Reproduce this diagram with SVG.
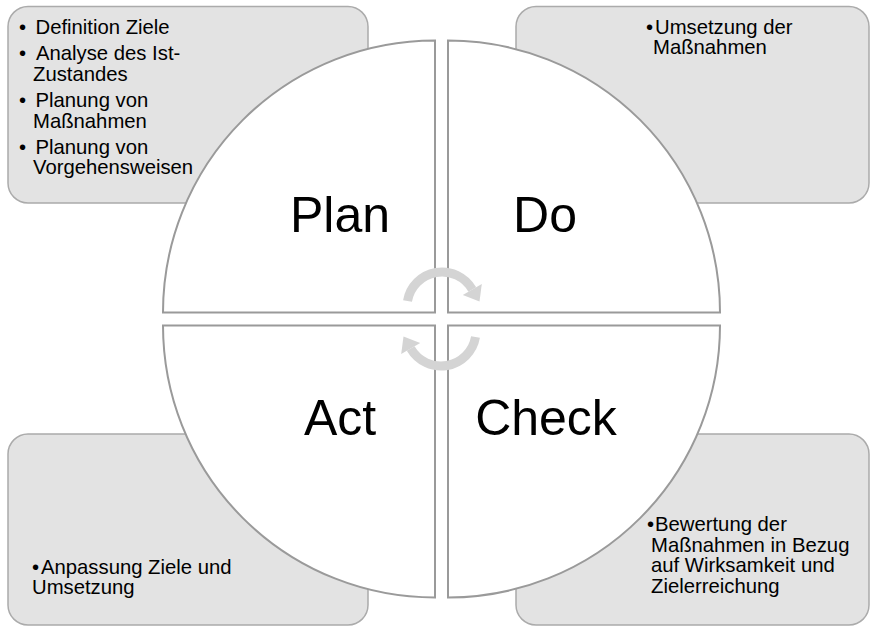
<svg xmlns="http://www.w3.org/2000/svg" xmlns:xlink="http://www.w3.org/1999/xlink" width="871" height="628" viewBox="0 0 871 628">
<style>
.box{fill:#e3e3e3;stroke:#ababab;stroke-width:1.5}
.quad{fill:#ffffff;stroke:#9a9a9a;stroke-width:2}
.lbl{font-family:"Liberation Sans",Arial,sans-serif;font-size:50px;fill:#000;text-anchor:middle}
.txt{font-family:"Liberation Sans",Arial,sans-serif;font-size:20.3px;fill:#000}
.arc{fill:none;stroke:#d4d4d4;stroke-width:9}
.head{fill:#d4d4d4}
</style>
<defs>
<g id="cycArrow">
<path class="arc" d="M 407.5 301 A 35 35 0 0 1 472.3 289.5"/>
<polygon class="head" points="481.8,284 462.8,295 479.5,301.5"/>
</g>
</defs>
<rect width="871" height="628" fill="#ffffff"/>
<g id="box-plan">
<rect class="box" x="8" y="6.5" width="360" height="196.5" rx="20"/>
<text class="txt"><tspan x="19" y="33.5">•</tspan><tspan x="35.5" y="33.5">Definition Ziele</tspan><tspan x="19" y="60">•</tspan><tspan x="36" y="60">Analyse des Ist-</tspan><tspan x="33" y="80.5">Zustandes</tspan><tspan x="19" y="107">•</tspan><tspan x="35.5" y="107">Planung von</tspan><tspan x="33" y="127.5">Maßnahmen</tspan><tspan x="19" y="153.5">•</tspan><tspan x="35.5" y="153.5">Planung von</tspan><tspan x="33" y="174">Vorgehensweisen</tspan></text>
</g>
<g id="box-do">
<rect class="box" x="516" y="6.5" width="353" height="196.5" rx="20"/>
<text class="txt"><tspan x="646" y="33.5">•</tspan><tspan x="655" y="33.5">Umsetzung der</tspan><tspan x="653" y="54">Maßnahmen</tspan></text>
</g>
<g id="box-act">
<rect class="box" x="8" y="434" width="360" height="191" rx="20"/>
<text class="txt"><tspan x="32" y="573.5">•</tspan><tspan x="41" y="573.5">Anpassung Ziele und</tspan><tspan x="32" y="594">Umsetzung</tspan></text>
</g>
<g id="box-check">
<rect class="box" x="516" y="434" width="353" height="191" rx="20"/>
<text class="txt"><tspan x="647" y="531">•</tspan><tspan x="655" y="531">Bewertung der</tspan><tspan x="651" y="551.5">Maßnahmen in Bezug</tspan><tspan x="651" y="572">auf Wirksamkeit und</tspan><tspan x="651" y="592.5">Zielerreichung</tspan></text>
</g>
<g id="plan">
<path class="quad" d="M 435 312.5 L 163 312.5 A 272 272 0 0 1 435 40.5 Z"/>
<text class="lbl" x="340" y="232">Plan</text>
</g>
<g id="do">
<path class="quad" d="M 448 312.5 L 448 40.5 A 272 272 0 0 1 720 312.5 Z"/>
<text class="lbl" x="545" y="232">Do</text>
</g>
<g id="check">
<path class="quad" d="M 448 325.5 L 720 325.5 A 272 272 0 0 1 448 597.5 Z"/>
<text class="lbl" x="546" y="435">Check</text>
</g>
<g id="act">
<path class="quad" d="M 435 325.5 L 435 597.5 A 272 272 0 0 1 163 325.5 Z"/>
<text class="lbl" x="340" y="435">Act</text>
</g>
<g id="connectors">
<use xlink:href="#cycArrow" href="#cycArrow"/>
<use xlink:href="#cycArrow" href="#cycArrow" transform="rotate(180 441.5 319)"/>
</g>
</svg>
